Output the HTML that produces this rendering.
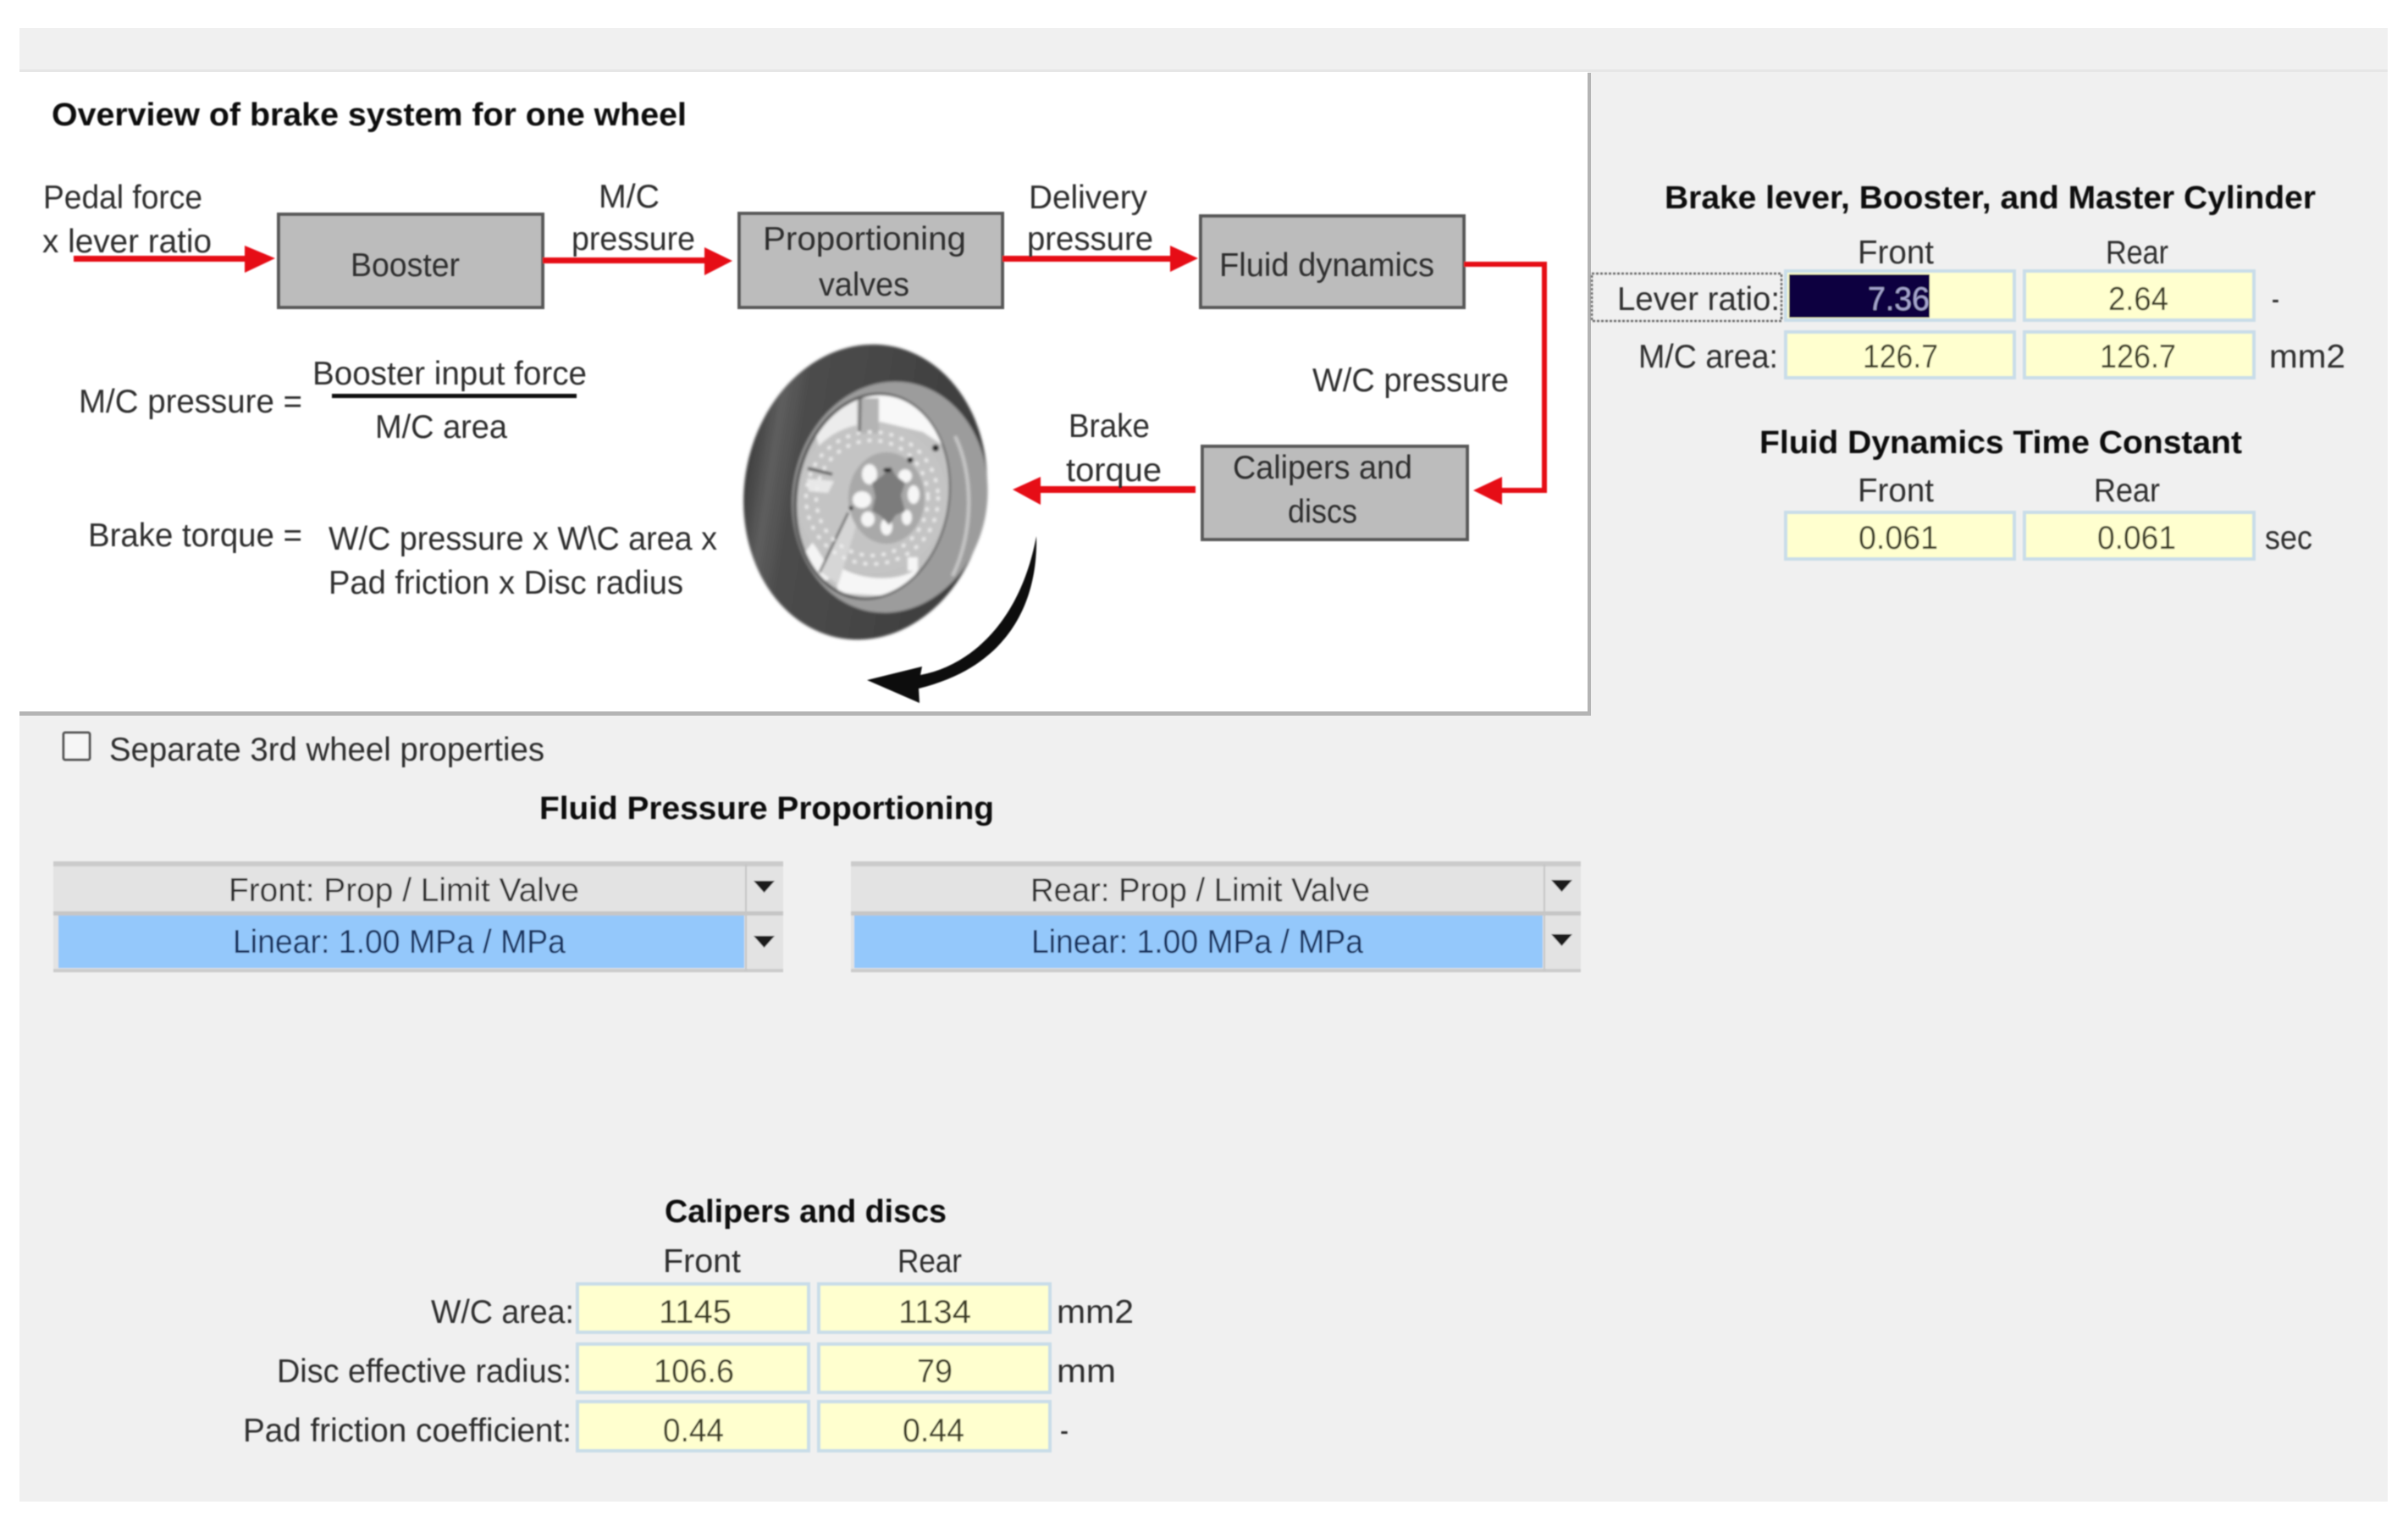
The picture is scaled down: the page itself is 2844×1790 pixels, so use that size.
<!DOCTYPE html>
<html><head><meta charset="utf-8"><title>Brake system overview</title>
<style>
html,body{margin:0;padding:0;background:#fff;width:2844px;height:1790px;overflow:hidden}
svg{display:block}
text{font-family:"Liberation Sans",sans-serif;font-size:39px;fill:#2f2f2f}
.b{font-weight:bold;font-size:38px;fill:#0c0c0c}
.i{fill:#3c3e28}
.c{fill:#14315e}
</style></head><body>
<svg width="2844" height="1790" viewBox="0 0 2844 1790" xmlns="http://www.w3.org/2000/svg">
<defs>
<filter id="s" x="-2%" y="-2%" width="104%" height="104%"><feGaussianBlur stdDeviation="0.9"/></filter>
<filter id="w" x="-5%" y="-5%" width="110%" height="110%"><feGaussianBlur stdDeviation="1.6"/></filter>
<linearGradient id="tire" x1="0" y1="0" x2="1" y2="0"><stop offset="0" stop-color="#3e3e3e"/><stop offset="0.1" stop-color="#5e5e5e"/><stop offset="0.2" stop-color="#4c4c4c"/><stop offset="1" stop-color="#3c3c3c"/></linearGradient>
<clipPath id="op"><ellipse cx="1031" cy="586" rx="89" ry="120" transform="rotate(9 1031 586)"/></clipPath>
</defs>
<rect x="23" y="33" width="2797" height="1740" fill="#f0f0f0"/>
<rect x="23" y="84" width="1852" height="757" fill="#fff"/>
<rect x="1875" y="86" width="4" height="759" fill="#b4b4b4"/>
<rect x="23" y="840" width="1856" height="5" fill="#b4b4b4"/>
<rect x="23" y="82" width="2797" height="3" fill="#e6e6e6"/>

<g filter="url(#s)">
<!-- blocks -->
<g fill="#bcbcbc" stroke="#585858" stroke-width="4">
<rect x="329" y="253" width="312" height="110"/>
<rect x="873" y="252" width="311" height="111"/>
<rect x="1418" y="255" width="311" height="108"/>
<rect x="1420" y="527" width="313" height="110"/>
</g>
<!-- red arrows -->
<g fill="#e60f14" stroke="none">
<rect x="87" y="302" width="205" height="7"/><path d="M289 290L325 305L289 322Z"/>
<rect x="641" y="304" width="195" height="7"/><path d="M832 292L865 308L832 325Z"/>
<rect x="1184" y="302" width="200" height="7"/><path d="M1382 290L1415 305L1382 321Z"/>
<path d="M1729 309H1827V582H1772V576H1821V315H1729Z"/><path d="M1774 563L1740 579L1774 596Z"/>
<rect x="1226" y="574" width="186" height="8"/><path d="M1229 563L1196 578L1229 596Z"/>
</g>
</g>
<!-- wheel -->
<g filter="url(#w)">
<ellipse cx="1022" cy="581" rx="143" ry="175" transform="rotate(9 1022 581)" fill="url(#tire)"/>
<ellipse cx="1051" cy="587" rx="115" ry="137" transform="rotate(9 1051 587)" fill="#9c9c9c"/>
<path d="M1128 515C1150 560 1150 630 1125 680" fill="none" stroke="#c8c8c8" stroke-width="4"/>
<ellipse cx="1030" cy="586" rx="92" ry="123" transform="rotate(9 1030 586)" fill="#555"/>
<ellipse cx="1031" cy="586" rx="89" ry="120" transform="rotate(9 1031 586)" fill="#c2c2c2"/>
<g clip-path="url(#op)">
<path d="M1020 460H1110L1120 530L1090 510L1040 498L1020 505Z" fill="#f8f8f8"/>
<path d="M960 500L1012 472V505L968 530Z" fill="#ececec"/>
<path d="M960 640L985 680L968 690L945 660Z" fill="#f4f4f4"/>
<path d="M985 665C1010 685 1060 690 1085 670L1070 705L990 700Z" fill="#f6f6f6"/>
</g>
<ellipse cx="1030" cy="588" rx="88" ry="88" fill="#c4c4c4"/>
<path d="M1016 470H1038V512H1016Z" fill="#b4b4b4"/><path d="M1016 470L1015 514" stroke="#666" stroke-width="3"/>
<path d="M954 553L983 560" stroke="#444" stroke-width="3"/>
<path d="M953 565L985 568L978 582L955 580Z" fill="#e8e8e8"/>
<path d="M970 676L1003 600L1014 612L990 690Z" fill="#d6d6d6"/>
<path d="M968 676L1002 605" stroke="#555" stroke-width="2.500"/>
<g fill="none" stroke="#efefef" stroke-width="4" stroke-linecap="round" stroke-dasharray="1 12">
<ellipse cx="1030" cy="588" rx="78" ry="78"/><ellipse cx="1030" cy="588" rx="66" ry="68"/>
</g>
<ellipse cx="1047" cy="588" rx="45" ry="54" fill="#a9a9a9"/>
<g fill="#f6f6f6">
<ellipse cx="1027" cy="560" rx="9" ry="12"/><ellipse cx="1069" cy="562" rx="8" ry="8"/><ellipse cx="1079" cy="584" rx="7" ry="11"/><ellipse cx="1071" cy="611" rx="6" ry="9"/><ellipse cx="1047" cy="622" rx="7" ry="10"/><ellipse cx="1025" cy="613" rx="8" ry="9"/><ellipse cx="1018" cy="590" rx="11" ry="10"/>
</g>
<path d="M1052 551L1058 562L1069 570L1064 585L1069 604L1058 608L1050 620L1041 610L1030 603L1034 587L1030 570L1042 562Z" fill="#7c7c7c"/>
<g fill="#1e1e1e"><circle cx="1105" cy="529" r="4"/><circle cx="1075" cy="543" r="3.500"/><ellipse cx="1048" cy="555" rx="5" ry="2.500"/><circle cx="1005" cy="600" r="2.500"/></g>
<rect x="1072" y="658" width="12" height="16" fill="#f6f6f6"/>
</g>
<g filter="url(#s)">
<!-- curved black arrow -->
<path d="M1224 633C1226 700 1200 785 1085 813L1086 830L1024 803L1089 787L1087 797C1150 785 1206 730 1224 633Z" fill="#0a0a0a"/>
<!-- fraction bar -->
<rect x="392" y="465" width="289" height="5" fill="#111"/>
<!-- inputs -->
<g fill="#ffffcf" stroke="#c9dde9" stroke-width="4">
<rect x="2109" y="320" width="270" height="58"/><rect x="2391" y="320" width="271" height="58"/>
<rect x="2109" y="392" width="270" height="54"/><rect x="2391" y="392" width="271" height="54"/>
<rect x="2109" y="605" width="270" height="55"/><rect x="2391" y="605" width="271" height="55"/>
<rect x="682" y="1516" width="273" height="57"/><rect x="967" y="1516" width="273" height="57"/>
<rect x="682" y="1587" width="273" height="57"/><rect x="967" y="1587" width="273" height="57"/>
<rect x="682" y="1655" width="273" height="58"/><rect x="967" y="1655" width="273" height="58"/>
</g>
<rect x="2113" y="324" width="166" height="51" fill="#0a0540"/>
<rect x="1880" y="323" width="224" height="56" fill="none" stroke="#666" stroke-width="2.500" stroke-dasharray="3 2"/>
<!-- checkbox -->
<rect x="75" y="865" width="31" height="32" rx="2" fill="#f6f6f6" stroke="#555" stroke-width="3"/>
<!-- combos -->
<g>
<rect x="63" y="1017" width="862" height="131" fill="#e3e3e3"/>
<rect x="63" y="1017" width="862" height="6" fill="#cbcbcb"/>
<rect x="63" y="1076" width="862" height="5" fill="#c6c6c6"/>
<rect x="63" y="1144" width="862" height="4" fill="#cbcbcb"/>
<rect x="69" y="1081" width="810" height="62" fill="#94c8fb"/>
<rect x="880" y="1020" width="2" height="126" fill="#c6c6c6"/>
<path d="M890 1040H915L902.500 1054Z M890 1105H915L902.500 1119Z" fill="#1a1a1a"/>
<rect x="1005" y="1017" width="862" height="131" fill="#e3e3e3"/>
<rect x="1005" y="1017" width="862" height="6" fill="#cbcbcb"/>
<rect x="1005" y="1076" width="862" height="5" fill="#c6c6c6"/>
<rect x="1005" y="1144" width="862" height="4" fill="#cbcbcb"/>
<rect x="1009" y="1081" width="813" height="62" fill="#94c8fb"/>
<rect x="1823" y="1020" width="2" height="126" fill="#c6c6c6"/>
<path d="M1832 1039H1857L1844.500 1053Z M1832 1103H1857L1844.500 1117Z" fill="#1a1a1a"/>
</g>

<!-- text -->
<text class="b" x="61" y="148" textLength="750" lengthAdjust="spacingAndGlyphs">Overview of brake system for one wheel</text>
<text x="51" y="246" textLength="188" lengthAdjust="spacingAndGlyphs">Pedal force</text>
<text x="50" y="298" textLength="200" lengthAdjust="spacingAndGlyphs">x lever ratio</text>
<text x="414" y="326" textLength="129" lengthAdjust="spacingAndGlyphs">Booster</text>
<text x="707" y="245" textLength="72" lengthAdjust="spacingAndGlyphs">M/C</text>
<text x="675" y="295" textLength="146" lengthAdjust="spacingAndGlyphs">pressure</text>
<text x="901" y="295" textLength="240" lengthAdjust="spacingAndGlyphs">Proportioning</text>
<text x="967" y="349" textLength="107" lengthAdjust="spacingAndGlyphs">valves</text>
<text x="1215" y="246" textLength="140" lengthAdjust="spacingAndGlyphs">Delivery</text>
<text x="1213" y="295" textLength="149" lengthAdjust="spacingAndGlyphs">pressure</text>
<text x="1440" y="326" textLength="254" lengthAdjust="spacingAndGlyphs">Fluid dynamics</text>
<text x="1550" y="462" textLength="232" lengthAdjust="spacingAndGlyphs">W/C pressure</text>
<text x="1262" y="516" textLength="96" lengthAdjust="spacingAndGlyphs">Brake</text>
<text x="1259" y="568" textLength="113" lengthAdjust="spacingAndGlyphs">torque</text>
<text x="1456" y="565" textLength="212" lengthAdjust="spacingAndGlyphs">Calipers and</text>
<text x="1521" y="617" textLength="82" lengthAdjust="spacingAndGlyphs">discs</text>
<text x="93" y="487" textLength="264" lengthAdjust="spacingAndGlyphs">M/C pressure =</text>
<text x="369" y="454" textLength="324" lengthAdjust="spacingAndGlyphs">Booster input force</text>
<text x="443" y="517" textLength="156" lengthAdjust="spacingAndGlyphs">M/C area</text>
<text x="104" y="645" textLength="253" lengthAdjust="spacingAndGlyphs">Brake torque =</text>
<text x="388" y="649" textLength="459" lengthAdjust="spacingAndGlyphs">W/C pressure x W\C area x</text>
<text x="388" y="701" textLength="419" lengthAdjust="spacingAndGlyphs">Pad friction x Disc radius</text>

<text class="b" x="1966" y="246" textLength="769" lengthAdjust="spacingAndGlyphs">Brake lever, Booster, and Master Cylinder</text>
<text x="2194" y="311" textLength="90" lengthAdjust="spacingAndGlyphs">Front</text>
<text x="2487" y="311" textLength="74" lengthAdjust="spacingAndGlyphs">Rear</text>
<text x="1910" y="366" textLength="192" lengthAdjust="spacingAndGlyphs">Lever ratio:</text>
<text x="2206" y="366" textLength="73" lengthAdjust="spacingAndGlyphs" style="fill:#a5a5cf">7.36</text>
<text class="i" x="2490" y="366" textLength="71" lengthAdjust="spacingAndGlyphs">2.64</text>
<text x="2683" y="366" textLength="9" lengthAdjust="spacingAndGlyphs">-</text>
<text x="1935" y="434" textLength="165" lengthAdjust="spacingAndGlyphs">M/C area:</text>
<text class="i" x="2200" y="434" textLength="89" lengthAdjust="spacingAndGlyphs">126.7</text>
<text class="i" x="2480" y="434" textLength="90" lengthAdjust="spacingAndGlyphs">126.7</text>
<text x="2680" y="434" textLength="90" lengthAdjust="spacingAndGlyphs">mm2</text>
<text class="b" x="2078" y="535" textLength="570" lengthAdjust="spacingAndGlyphs">Fluid Dynamics Time Constant</text>
<text x="2194" y="592" textLength="90" lengthAdjust="spacingAndGlyphs">Front</text>
<text x="2473" y="592" textLength="78" lengthAdjust="spacingAndGlyphs">Rear</text>
<text class="i" x="2195" y="648" textLength="94" lengthAdjust="spacingAndGlyphs">0.061</text>
<text class="i" x="2477" y="648" textLength="93" lengthAdjust="spacingAndGlyphs">0.061</text>
<text x="2675" y="648" textLength="56" lengthAdjust="spacingAndGlyphs">sec</text>

<text x="129" y="898" textLength="514" lengthAdjust="spacingAndGlyphs">Separate 3rd wheel properties</text>
<text class="b" x="637" y="967" textLength="537" lengthAdjust="spacingAndGlyphs">Fluid Pressure Proportioning</text>
<text x="270" y="1064" textLength="414" lengthAdjust="spacingAndGlyphs">Front: Prop / Limit Valve</text>
<text class="c" x="275" y="1125" textLength="393" lengthAdjust="spacingAndGlyphs">Linear: 1.00 MPa / MPa</text>
<text x="1217" y="1064" textLength="401" lengthAdjust="spacingAndGlyphs">Rear: Prop / Limit Valve</text>
<text class="c" x="1218" y="1125" textLength="392" lengthAdjust="spacingAndGlyphs">Linear: 1.00 MPa / MPa</text>

<text class="b" x="785" y="1443" textLength="333" lengthAdjust="spacingAndGlyphs">Calipers and discs</text>
<text x="783" y="1502" textLength="92" lengthAdjust="spacingAndGlyphs">Front</text>
<text x="1060" y="1502" textLength="76" lengthAdjust="spacingAndGlyphs">Rear</text>
<text x="509" y="1562" textLength="169" lengthAdjust="spacingAndGlyphs">W/C area:</text>
<text class="i" x="778" y="1562" textLength="86" lengthAdjust="spacingAndGlyphs">1145</text>
<text class="i" x="1061" y="1562" textLength="86" lengthAdjust="spacingAndGlyphs">1134</text>
<text x="1248" y="1562" textLength="91" lengthAdjust="spacingAndGlyphs">mm2</text>
<text x="327" y="1632" textLength="348" lengthAdjust="spacingAndGlyphs">Disc effective radius:</text>
<text class="i" x="772" y="1632" textLength="95" lengthAdjust="spacingAndGlyphs">106.6</text>
<text class="i" x="1083" y="1632" textLength="42" lengthAdjust="spacingAndGlyphs">79</text>
<text x="1248" y="1632" textLength="70" lengthAdjust="spacingAndGlyphs">mm</text>
<text x="287" y="1702" textLength="388" lengthAdjust="spacingAndGlyphs">Pad friction coefficient:</text>
<text class="i" x="783" y="1702" textLength="72" lengthAdjust="spacingAndGlyphs">0.44</text>
<text class="i" x="1066" y="1702" textLength="73" lengthAdjust="spacingAndGlyphs">0.44</text>
<text x="1252" y="1702" textLength="10" lengthAdjust="spacingAndGlyphs">-</text>
</g>
</svg>
</body></html>
